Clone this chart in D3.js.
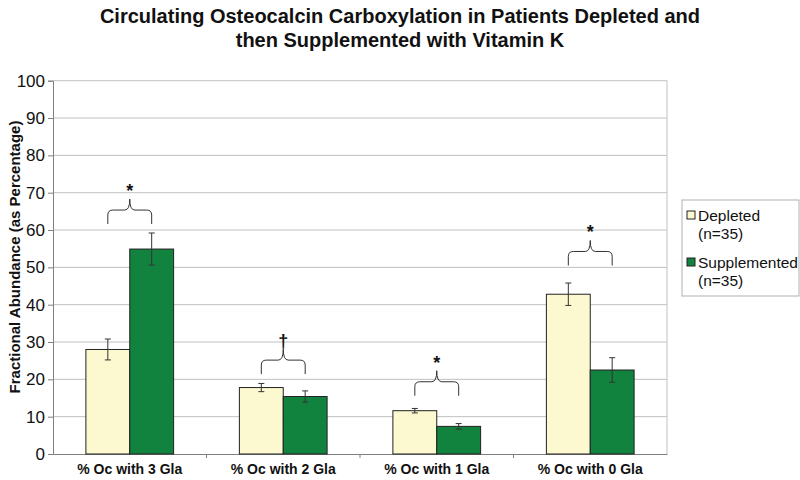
<!DOCTYPE html>
<html>
<head>
<meta charset="utf-8">
<script src="https://cdn.jsdelivr.net/npm/d3@7"></script>
<style>
  body { margin: 0; background: #fff; }
  svg text { font-family: "Liberation Sans", Arial, sans-serif; }
</style>
</head>
<body>
<div id="chart"></div>
<script>
const categories = ['% Oc with 3 Gla', '% Oc with 2 Gla', '% Oc with 1 Gla', '% Oc with 0 Gla'];
const seriesNames = ['Depleted', 'Supplemented'];
const depleted = [28.0, 17.8, 11.6, 42.8];
const supplemented = [54.9, 15.4, 7.4, 22.5];
const depletedErr = [2.8, 1.1, 0.6, 3.0];
const supplementedErr = [4.3, 1.5, 0.75, 3.3];
const markLevels = [61.6, 21.4, 15.6, 50.5];
const markSymbols = ['*', '\u2020', '*', '*'];
const yTicks = [0, 10, 20, 30, 40, 50, 60, 70, 80, 90, 100];

const WIDTH = 800;
const HEIGHT = 480;
const LEFT = 53;
const RIGHT = 667;
const TOP = 80.7;
const BOTTOM = 454;
const colors = ['#FCF8CF', '#11833F'];

const svg = d3.select('#chart').append('svg').attr('width', WIDTH).attr('height', HEIGHT);

const x0 = d3.scaleBand().domain(categories).range([LEFT, RIGHT]);
const x1 = d3.scaleBand().domain(seriesNames).range([0, x0.bandwidth()]).paddingOuter(0.75);
const y = d3.scaleLinear().domain([0, 100]).range([BOTTOM, TOP]);

// gridlines
svg.append('g')
  .selectAll('line')
  .data(yTicks.slice(1))
  .join('line')
  .attr('x1', LEFT).attr('x2', RIGHT)
  .attr('y1', (d) => y(d)).attr('y2', (d) => y(d))
  .attr('stroke', '#c0c0c0');

svg.append('line')
  .attr('x1', RIGHT).attr('x2', RIGHT).attr('y1', TOP).attr('y2', BOTTOM)
  .attr('stroke', '#c0c0c0');

// axes
const yAxis = svg.append('g')
  .attr('transform', `translate(${LEFT},0)`)
  .call(d3.axisLeft(y).tickValues(yTicks).tickSize(5).tickPadding(3));
yAxis.select('.domain').attr('stroke', '#808080');
yAxis.selectAll('.tick line').attr('stroke', '#808080');
yAxis.selectAll('text').attr('font-size', 17).attr('fill', '#111').style('font-family', '"Liberation Sans", Arial, sans-serif');

const xAxis = svg.append('g')
  .attr('transform', `translate(0,${BOTTOM})`)
  .call(d3.axisBottom(x0).tickSize(0).tickPadding(10));
xAxis.select('.domain').attr('stroke', '#808080');
xAxis.selectAll('text').attr('font-size', 14).attr('font-weight', 'bold').attr('fill', '#111')
  .style('font-family', '"Liberation Sans", Arial, sans-serif');

svg.append('g')
  .selectAll('line')
  .data(categories.slice(1))
  .join('line')
  .attr('x1', (d) => x0(d)).attr('x2', (d) => x0(d))
  .attr('y1', BOTTOM).attr('y2', BOTTOM + 4)
  .attr('stroke', '#808080');

// bars
const rows = categories.map((c, i) => ({
  cat: c,
  values: [
    { name: seriesNames[0], v: depleted[i], e: depletedErr[i] },
    { name: seriesNames[1], v: supplemented[i], e: supplementedErr[i] },
  ],
}));

const groups = svg.append('g')
  .selectAll('g')
  .data(rows)
  .join('g')
  .attr('transform', (d) => `translate(${x0(d.cat)},0)`);

groups.selectAll('rect')
  .data((d) => d.values)
  .join('rect')
  .attr('x', (d) => x1(d.name))
  .attr('width', x1.bandwidth())
  .attr('y', (d) => y(d.v))
  .attr('height', (d) => y(0) - y(d.v))
  .attr('fill', (d, i) => colors[i])
  .attr('stroke', '#222')
  .attr('stroke-width', 1);

// error bars
const errG = groups.selectAll('g.err')
  .data((d) => d.values)
  .join('g')
  .attr('class', 'err')
  .attr('stroke', '#333')
  .attr('stroke-width', 1);
const cx = (d) => x1(d.name) + x1.bandwidth() / 2;
errG.append('line')
  .attr('x1', cx).attr('x2', cx)
  .attr('y1', (d) => y(d.v + d.e)).attr('y2', (d) => y(d.v - d.e));
errG.append('line')
  .attr('x1', (d) => cx(d) - 3).attr('x2', (d) => cx(d) + 3)
  .attr('y1', (d) => y(d.v + d.e)).attr('y2', (d) => y(d.v + d.e));
errG.append('line')
  .attr('x1', (d) => cx(d) - 3).attr('x2', (d) => cx(d) + 3)
  .attr('y1', (d) => y(d.v - d.e)).attr('y2', (d) => y(d.v - d.e));

// significance braces
const bracePath = (xa, xb, yEnd) => {
  const xm = (xa + xb) / 2;
  const yH = yEnd - 14;
  const yTip = yH - 11;
  const r = 5;
  return `M${xa},${yEnd} V${yH + r} Q${xa},${yH} ${xa + r},${yH} H${xm - r} Q${xm},${yH} ${xm},${yTip}` +
    ` Q${xm},${yH} ${xm + r},${yH} H${xb - r} Q${xb},${yH} ${xb},${yH + r} V${yEnd}`;
};

groups.append('path')
  .attr('d', (d, i) => bracePath(cx(d.values[0]), cx(d.values[1]), y(markLevels[i])))
  .attr('fill', 'none')
  .attr('stroke', '#333')
  .attr('stroke-width', 1);

groups.append('text')
  .attr('x', (d) => (cx(d.values[0]) + cx(d.values[1])) / 2)
  .attr('y', (d, i) => y(markLevels[i]) - 14 - 11 - 2)
  .attr('text-anchor', 'middle')
  .attr('font-size', 18)
  .attr('font-weight', 'bold')
  .attr('fill', '#111')
  .text((d, i) => markSymbols[i]);

// title
svg.append('text')
  .attr('x', 400).attr('y', 23)
  .attr('text-anchor', 'middle')
  .attr('font-size', 20).attr('font-weight', 'bold').attr('fill', '#111')
  .text('Circulating Osteocalcin Carboxylation in Patients Depleted and');
svg.append('text')
  .attr('x', 400).attr('y', 47)
  .attr('text-anchor', 'middle')
  .attr('font-size', 20).attr('font-weight', 'bold').attr('fill', '#111')
  .text('then Supplemented with Vitamin K');

// y axis title
svg.append('text')
  .attr('transform', 'translate(14,257) rotate(-90)')
  .attr('text-anchor', 'middle')
  .attr('dominant-baseline', 'central')
  .attr('font-size', 15).attr('font-weight', 'bold').attr('fill', '#111')
  .text('Fractional Abundance (as Percentage)');

// legend
const legend = svg.append('g');
legend.append('rect')
  .attr('x', 682).attr('y', 200).attr('width', 117).attr('height', 96)
  .attr('fill', '#fff').attr('stroke', '#b0b0b0');

const legendItems = legend.selectAll('g')
  .data(seriesNames)
  .join('g')
  .attr('transform', (d, i) => `translate(687,${215 + i * 47})`);
legendItems.append('rect')
  .attr('x', 0).attr('y', -4).attr('width', 8).attr('height', 8)
  .attr('fill', (d, i) => colors[i]).attr('stroke', '#222');
legendItems.append('text')
  .attr('x', 11).attr('y', 0)
  .attr('dominant-baseline', 'central')
  .attr('font-size', 15.5).attr('fill', '#111')
  .text((d) => d);
legendItems.append('text')
  .attr('x', 11).attr('y', 18)
  .attr('dominant-baseline', 'central')
  .attr('font-size', 15.5).attr('fill', '#111')
  .text('(n=35)');
</script>
</body>
</html>
